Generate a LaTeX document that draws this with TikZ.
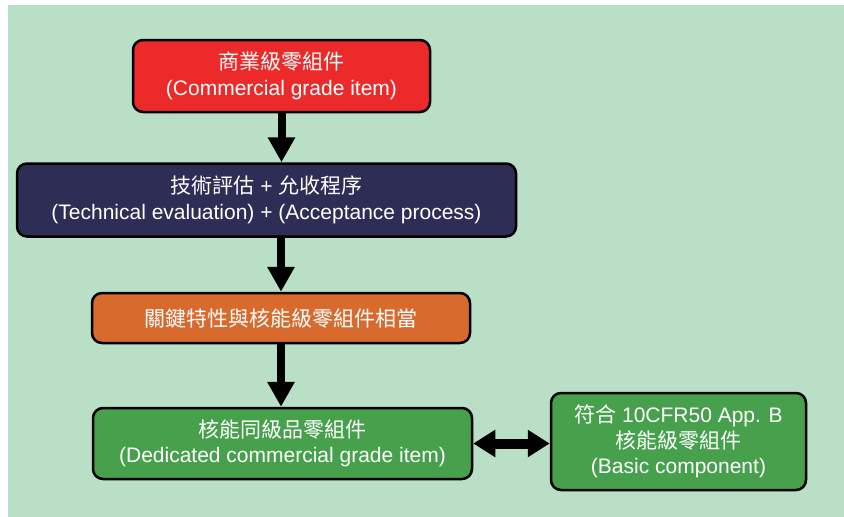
\documentclass[tikz,border=0pt]{standalone}
\usepackage{fontspec}
\setmainfont{Liberation Sans}
\newfontfamily\cjk{Noto Sans CJK TC}
\usetikzlibrary{arrows.meta,positioning}
\definecolor{bgmint}{RGB}{186,223,199}
\definecolor{redbox}{RGB}{236,42,42}
\definecolor{navybox}{RGB}{46,45,86}
\definecolor{orangebox}{RGB}{217,106,46}
\definecolor{greenbox}{RGB}{70,160,76}
\tikzset{
	every node/.style={
		font=\fontsize{21}{25.5}\selectfont,
		text=white
	},
	item/.style={
		shape=rectangle,
		draw=black,
		line width=2.5pt,
		rounded corners=10pt,
		align=center,
		inner sep=0pt
	},
	flow/.style={
		-{Triangle[width=26pt,length=25pt]},
		line width=8pt
	},
	link/.style={
		{Triangle[width=26pt,length=22pt]}-{Triangle[width=26pt,length=22pt]},
		line width=10pt
	}
}

\begin{document}
\begin{tikzpicture}[x=1pt,y=-1pt]
	\fill[white] (0,0) rectangle (844,517);
	\fill[bgmint] (8,5) rectangle (844,517);
	
	\node[item, fill=redbox, minimum width=297pt, minimum height=72pt] (commercial) at (281.5,76)
		{{\cjk 商業級零組件}\\(Commercial grade item)};
	\node[item, fill=navybox, minimum width=499pt, minimum height=73pt] (evaluation) at (266.5,200)
		{{\cjk 技術評估} + {\cjk 允收程序}\\(Technical evaluation) + (Acceptance process)};
	\node[item, fill=orangebox, minimum width=378pt, minimum height=50pt] (equivalent) at (281,318)
		{{\cjk 關鍵特性與核能級零組件相當}};
	\node[item, fill=greenbox, minimum width=379pt, minimum height=71pt] (dedicated) at (282.5,443.5)
		{{\cjk 核能同級品零組件}\\(Dedicated commercial grade item)};
	\node[item, fill=greenbox, minimum width=255pt, minimum height=97pt] (basic) at (678.5,441.5)
		{{\cjk 符合} 10CFR50 App. B\\{\cjk 核能級零組件}\\(Basic component)};
	
	\draw[flow] (commercial.south) -- (commercial.south |- evaluation.north);
	\draw[flow] (equivalent.north |- evaluation.south) -- (equivalent.north);
	\draw[flow] (equivalent.south) -- (equivalent.south |- dedicated.north);
	\draw[link] (dedicated.east) -- (dedicated.east -| basic.west);
\end{tikzpicture}
\end{document}
